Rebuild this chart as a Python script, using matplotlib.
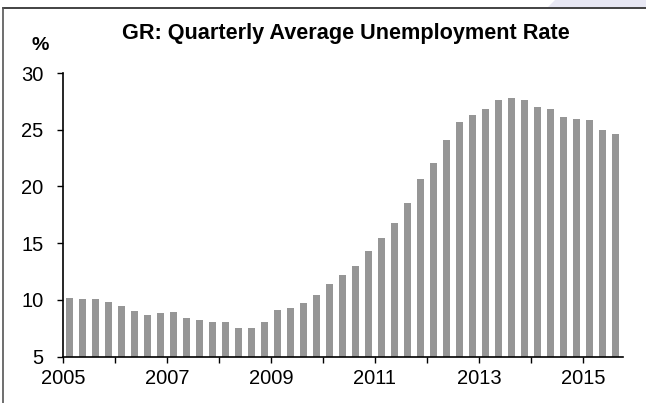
#!/usr/bin/env python3
import matplotlib
matplotlib.use("Agg")
import matplotlib.pyplot as plt
from matplotlib.lines import Line2D
from matplotlib.patches import Polygon
import numpy as np

plt.rcParams['font.family'] = ['Liberation Sans', 'DejaVu Sans']

# quarterly unemployment rate, 2005Q1 .. 2015Q3
rate = [10.15, 10.06, 10.08, 9.8, 9.45, 9.03, 8.65, 8.83, 8.92, 8.45,
        8.2, 8.09, 8.03, 7.56, 7.56, 8.06, 9.1, 9.27, 9.74, 10.42,
        11.39, 12.2, 12.98, 14.3, 15.5, 16.8, 18.54, 20.68, 22.1, 24.1,
        25.69, 26.27, 26.83, 27.63, 27.77, 27.6, 27.04, 26.86, 26.16, 25.95,
        25.83, 24.95, 24.66]
start_year = 2005
year_ticks = list(range(2005, 2016))
title = "GR: Quarterly Average Unemployment Rate"

x = start_year + 0.125 + 0.25 * np.arange(len(rate))

fig = plt.figure(figsize=(6.46, 4.03), dpi=100)
ax = fig.add_axes([63 / 646, 1 - 356.7 / 403, 559.5 / 646, 283.7 / 403])

ax.bar(x, np.array(rate) - 5, bottom=5, width=0.148, color='#969696')

ax.set_xlim(2005, 2015.76)
ax.set_ylim(5, 30)
ax.set_yticks([5, 10, 15, 20, 25, 30])
ax.set_xticks(year_ticks)
ax.set_xticklabels([str(y) if (y - 2005) % 2 == 0 else '' for y in year_ticks])
ax.tick_params(axis='both', direction='out', length=4, width=1,
               labelsize=14.5, color='black')
ax.tick_params(axis='x', pad=5)
ax.tick_params(axis='y', pad=10)
ax.spines['top'].set_visible(False)
ax.spines['right'].set_visible(False)
for s in ('left', 'bottom'):
    ax.spines[s].set_linewidth(1.2)

fig.text(346 / 646, 1 - 33 / 403, title, ha='center', va='center',
         fontsize=15.6, fontweight='bold')
fig.text(40 / 646, 1 - 45 / 403, '%', ha='center', va='center',
         fontsize=14, fontweight='bold')

# faint watermark corner and frame lines
fig.patches.append(Polygon([[555 / 646, 1], [1, 1], [1, 1 - 7 / 403],
                            [548 / 646, 1 - 7 / 403]], closed=True,
                           transform=fig.transFigure, color='#e8e8f4', lw=0))
fig.lines.append(Line2D([3 / 646, 1], [1 - 8 / 403, 1 - 8 / 403],
                        transform=fig.transFigure, color='#222222', lw=1.2))
fig.lines.append(Line2D([3 / 646, 3 / 646], [0, 1 - 8 / 403],
                        transform=fig.transFigure, color='#555555', lw=1.2))

fig.savefig('out.png', dpi=100)
